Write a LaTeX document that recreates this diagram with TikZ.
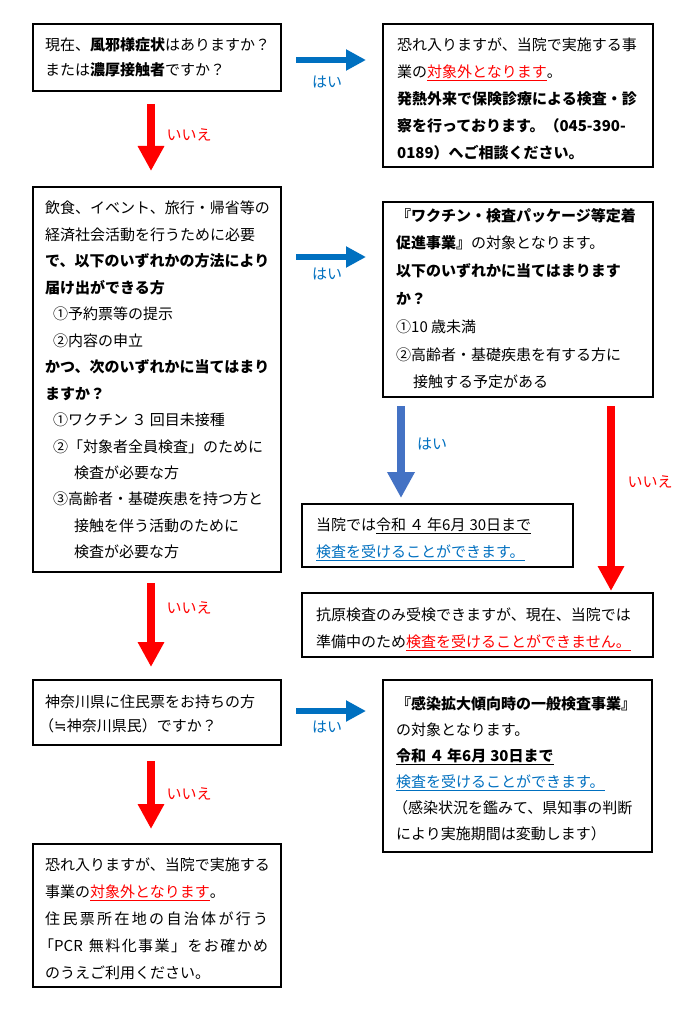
\documentclass[tikz,border=0pt]{standalone}
\usepackage{fontspec}
\setmainfont{Noto Sans CJK JP}
\newfontfamily\djv{DejaVu Sans}
\usetikzlibrary{arrows.meta,calc}
\definecolor{rd}{HTML}{FF0000}
\definecolor{bl}{HTML}{0070C0}
\definecolor{bltwo}{HTML}{4472C4}
\newcommand{\rdu}[1]{\textcolor{rd}{\underline{#1}}}
\newcommand{\blu}[1]{\textcolor{bl}{\underline{#1}}}
\begin{document}
\begin{tikzpicture}[x=1pt,y=-1pt,
  box/.style={draw=black, line width=2pt, rectangle, inner sep=0pt},
  txt/.style={anchor=north west, inner sep=0pt, align=left, font=\fontsize{15}{26}\selectfont},
  redarr/.style={draw=rd, line width=8.5pt, -{Triangle[length=25pt,width=25pt]}},
  bluearr/.style={draw=bl, line width=6.5pt, -{Triangle[length=20pt,width=20pt]}},
  bluevarr/.style={draw=bltwo, line width=8pt, -{Triangle[length=26pt,width=26pt]}},
  nolab/.style={text=rd, inner sep=0pt, font=\fontsize{15}{18}\selectfont},
  yeslab/.style={text=bl, inner sep=0pt, font=\fontsize{15}{18}\selectfont}]
\useasboundingbox (0,0) rectangle (693,1024);
\fill[white] (0,0) rectangle (693,1024);

% boxes
\node[box, minimum width=248pt, minimum height=67pt] (b1) at (157,57.5) {};
\node[box, minimum width=270pt, minimum height=143pt] (b2) at (518,95.5) {};
\node[box, minimum width=248pt, minimum height=385pt] (b3) at (157,379.5) {};
\node[box, minimum width=270pt, minimum height=195pt] (b4) at (518,299.5) {};
\node[box, minimum width=271pt, minimum height=63pt] (b5) at (437.5,535.5) {};
\node[box, minimum width=351pt, minimum height=64pt] (b6) at (477.5,625) {};
\node[box, minimum width=248pt, minimum height=65pt] (b7) at (157,712.5) {};
\node[box, minimum width=269pt, minimum height=172pt] (b8) at (517.5,766) {};
\node[box, minimum width=248pt, minimum height=143pt] (b9) at (157,915.5) {};

% texts
\node[txt, font=\fontsize{15}{25}\selectfont] (t1) at (45,37) {現在、\textbf{風邪様症状}はありますか？\\または\textbf{濃厚接触者}ですか？};

\node[txt, font=\fontsize{15}{27}\selectfont] (t2) at (397,38) {恐れ入りますが、当院で実施する事\\業の\rdu{対象外となります}。\\\textbf{発熱外来で保険診療による検査・診}\\\textbf{察を行っております。（045-390-}\\\textbf{0189）へご相談ください。}};

\node[txt, font=\fontsize{15}{26.46}\selectfont] (t3) at (45,201) {飲食、イベント、旅行・帰省等の\\経済社会活動を行うために必要\\\textbf{で、以下のいずれかの方法により}\\\textbf{届け出ができる方}\\\hspace*{8pt}①予約票等の提示\\\hspace*{8pt}②内容の申立\\\textbf{かつ、次のいずれかに当てはまり}\\\textbf{ますか？}\\\hspace*{8pt}①ワクチン ３ 回目未接種\\\hspace*{8pt}②「対象者全員検査」のために\\\hspace*{29pt}検査が必要な方\\\hspace*{8pt}③高齢者・基礎疾患を持つ方と\\\hspace*{29pt}接触を伴う活動のために\\\hspace*{29pt}検査が必要な方};

\node[txt, font=\fontsize{15}{27.8}\selectfont] (t4) at (396,208) {\textbf{『ワクチン・検査パッケージ等定着}\\\textbf{促進事業』}の対象となります。\\\textbf{以下のいずれかに当てはまります}\\\textbf{か？}\\①10 歳未満\\②高齢者・基礎疾患を有する方に\\\hspace*{17pt}接触する予定がある};

\node[txt, font=\fontsize{15}{27}\selectfont] (t5) at (316,518) {当院では\underline{令和\hspace{3pt}４\hspace{3pt}年6月\hspace{4pt}30日まで}\\\blu{検査を受けることができます。}};

\node[txt, font=\fontsize{15}{27}\selectfont] (t6) at (316,608) {抗原検査のみ受検できますが、現在、当院では\\準備中のため\rdu{検査を受けることができません。}};

\node[txt, font=\fontsize{15}{23.5}\selectfont] (t7) at (45,695) {神奈川県に住民票をお持ちの方\\\hspace*{-6pt}（{\djv ≒}神奈川県民）ですか？};

\node[txt, font=\fontsize{15}{26}\selectfont] (t8) at (396,696) {\textbf{『感染拡大傾向時の一般検査事業』}\\の対象となります。\\\textbf{\underline{令和\hspace{3pt}４\hspace{3pt}年6月\hspace{4pt}30日まで}}\\\blu{検査を受けることができます。}\\\hspace*{-3pt}（感染状況を鑑みて、県知事の判断\\により実施期間は変動します）};

\node[txt, font=\fontsize{15}{27}\selectfont] (t9) at (45,858) {恐れ入りますが、当院で実施する\\事業の\rdu{対象外となります}。\\\makebox[223pt][s]{住\hfil 民\hfil 票\hfil 所\hfil 在\hfil 地\hfil の\hfil 自\hfil 治\hfil 体\hfil が\hfil 行\hfil う}\\\makebox[223pt][s]{\hspace*{-6pt}「PCR\hfil\ \hfil 無\hfil 料\hfil 化\hfil 事\hfil 業\hfil 」\hfil を\hfil お\hfil 確\hfil か\hfil め}\\のうえご利用ください。};

% connectors
\coordinate (p1) at (b1.east |- 0,60);
\draw[bluearr, shorten <=14pt, shorten >=16pt] (p1) -- (p1 -| b2.west);
\coordinate (p2) at (b3.east |- 0,257);
\draw[bluearr, shorten <=14pt, shorten >=16pt] (p2) -- (p2 -| b4.west);
\coordinate (p4) at (b7.east |- 0,711);
\draw[bluearr, shorten <=14pt, shorten >=16pt] (p4) -- (p4 -| b8.west);

\coordinate (r1) at (151,0 |- b1.south);
\draw[redarr, shorten <=12pt, shorten >=15pt] (r1) -- (r1 |- b3.north);
\coordinate (r3) at (151,0 |- b3.south);
\draw[redarr, shorten <=10pt, shorten >=12pt] (r3) -- (r3 |- b7.north);
\coordinate (r4) at (151,0 |- b7.south);
\draw[redarr, shorten <=15pt, shorten >=14pt] (r4) -- (r4 |- b9.north);
\coordinate (r2) at (611,0 |- b4.south);
\draw[redarr, shorten <=8pt, shorten >=1pt] (r2) -- (r2 |- b6.north);
\coordinate (v1) at (401,0 |- b4.south);
\draw[bluevarr, shorten <=8pt, shorten >=5pt] (v1) -- (v1 |- b5.north);

% labels
\node[nolab] (n1) at (189,135) {いいえ};
\node[nolab] (n2) at (650,482) {いいえ};
\node[nolab] (n3) at (189,608) {いいえ};
\node[nolab] (n4) at (189,794) {いいえ};
\node[yeslab] (y1) at (327,82) {はい};
\node[yeslab] (y2) at (327,274) {はい};
\node[yeslab] (y3) at (432,444) {はい};
\node[yeslab] (y4) at (327,727) {はい};
\end{tikzpicture}
\end{document}
